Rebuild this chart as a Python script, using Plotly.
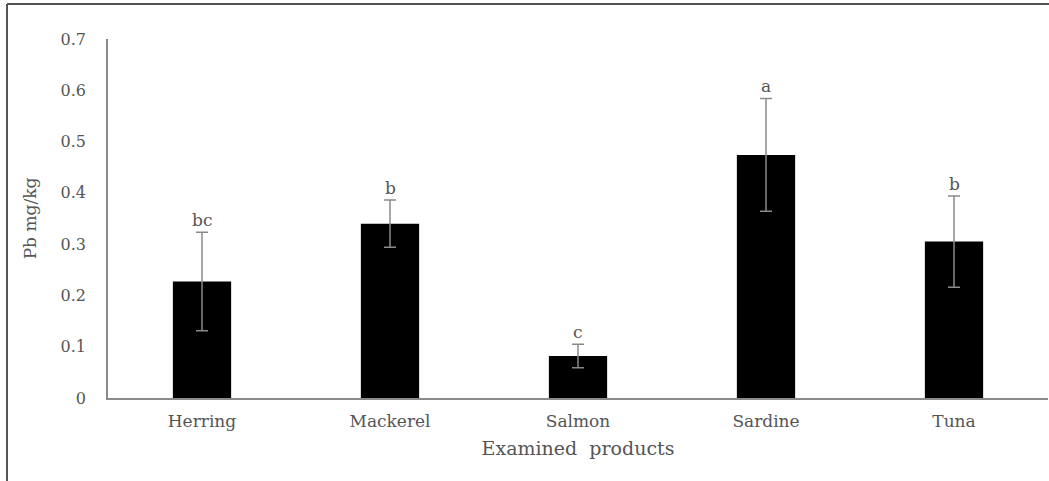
import plotly.graph_objects as go

# Mean Pb content per product with standard deviation and significance letters
products = ["Herring", "Mackerel", "Salmon", "Sardine", "Tuna"]
pb_mean = [0.227, 0.340, 0.082, 0.474, 0.305]
pb_sd = [0.096, 0.046, 0.023, 0.110, 0.089]
sig_letters = ["bc", "b", "c", "a", "b"]
y_ticks = [0, 0.1, 0.2, 0.3, 0.4, 0.5, 0.6, 0.7]
y_tick_labels = ["0", "0.1", "0.2", "0.3", "0.4", "0.5", "0.6", "0.7"]

FONT = "DejaVu Serif, Liberation Serif, serif"
TEXT = "#555555"

fig = go.Figure(
    go.Bar(
        x=products,
        y=pb_mean,
        marker=dict(color="#000000", line=dict(width=0)),
        error_y=dict(type="data", array=pb_sd, visible=True,
                     color="#8a8a8a", thickness=1.5, width=6),
        width=0.31,
        hoverinfo="skip",
    )
)

# significance letters sit just above each error bar
for p, m, s, lab in zip(products, pb_mean, pb_sd, sig_letters):
    fig.add_annotation(x=p, y=m + s, text=lab, showarrow=False,
                       yanchor="bottom", yshift=0,
                       font=dict(family=FONT, size=17, color=TEXT))

plot_l, plot_r, plot_t, plot_b = 108, 1048, 39, 398
W, H = 1049, 481
pw, ph = plot_r - plot_l, plot_b - plot_t

# outer frame (top and left edges)
fx = (7 - plot_l) / pw
fy = 1 + (plot_t - 4) / ph
fig.add_shape(type="line", xref="paper", yref="paper", x0=fx, x1=(W + 5 - plot_l) / pw,
              y0=fy, y1=fy, line=dict(color="#555555", width=2))
fig.add_shape(type="line", xref="paper", yref="paper", x0=fx, x1=fx,
              y0=fy, y1=-(H + 5 - plot_b) / ph, line=dict(color="#555555", width=2))

fig.update_layout(
    width=W, height=H,
    margin=dict(l=plot_l, r=W - plot_r, t=plot_t, b=H - plot_b),
    plot_bgcolor="white", paper_bgcolor="white",
    showlegend=False,
    font=dict(family=FONT, color=TEXT, size=16),
    xaxis=dict(
        showline=True, linecolor="#8a8a8a", linewidth=1.5,
        ticks="", showgrid=False, zeroline=False,
        ticklabelstandoff=7,
        tickfont=dict(family=FONT, size=17, color=TEXT),
        title=dict(text="Examined  products", standoff=12,
                   font=dict(family=FONT, size=19, color=TEXT)),
    ),
    yaxis=dict(
        range=[0, 0.7], showline=True, linecolor="#8a8a8a", linewidth=1.5,
        ticks="", showgrid=False, zeroline=False,
        tickvals=y_ticks, ticktext=y_tick_labels,
        ticklabelstandoff=17,
        tickfont=dict(family=FONT, size=16, color=TEXT),
        title=dict(text="Pb mg/kg", standoff=20,
                   font=dict(family=FONT, size=17, color=TEXT)),
    ),
)

fig.write_html("out.html")
